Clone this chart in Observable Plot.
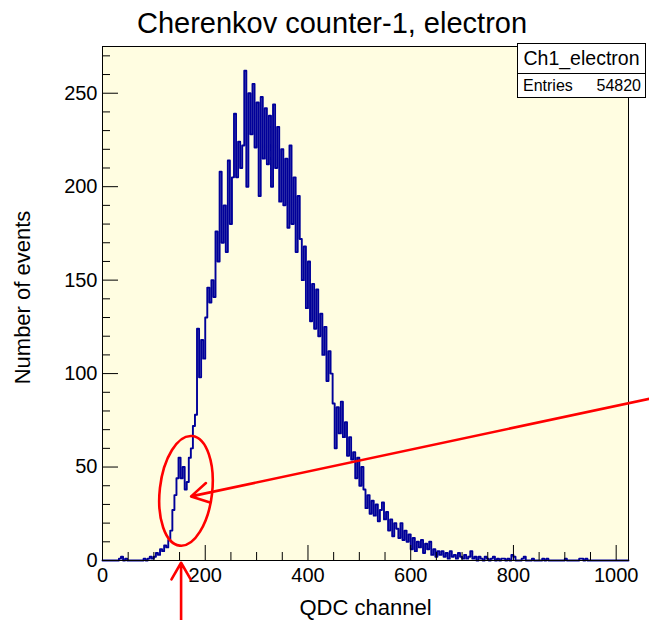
<!DOCTYPE html>
<html>
<head>
<meta charset="utf-8">
<script src="https://cdn.jsdelivr.net/npm/d3@7"></script>
<script src="https://cdn.jsdelivr.net/npm/@observablehq/plot@0.6"></script>
<style>
  body { margin: 0; background: #fff; }
  #wrap { position: relative; width: 649px; height: 620px; font-family: "Liberation Sans", Arial, Helvetica, sans-serif; color: #000; }
  #title { position: absolute; left: 332px; top: 7px; transform: translateX(-50%); white-space: nowrap; font-size: 29px; line-height: 32px; }
  #stats { position: absolute; left: 517px; top: 43px; width: 127px; height: 53px; border: 1px solid #000; background: #fff; }
  #stats .name { height: 29px; border-bottom: 1px solid #000; text-align: center; font-size: 19.5px; line-height: 29px; }
  #stats .row { display: flex; justify-content: space-between; padding: 0 4px 0 5px; font-size: 16px; line-height: 23px; }
  svg { position: absolute; left: 0; top: 0; }
</style>
</head>
<body>
<div id="wrap">
  <div id="title">Cherenkov counter-1, electron</div>
</div>
<script>
// ---- data (per-channel counts, read in groups of 4 QDC channels) ----
const binWidth = 4;
const counts = [
  0,0,0,0,0,0,0,0,1,2, 0,1,0,0,0,0,0,0,0,0,
  1,0,1,2,1,2,4,3,6,5, 8,7,11,16,27,35,44,55,44,50,
  38,42,55,60,72,78,124,98,118,108, 130,146,138,150,141,176,160,208,170,190,
  165,214,180,205,239,205,224,210,222,262, 200,250,228,255,221,245,195,248,215,242,
  212,238,200,244,210,232,192,220,190,215, 178,222,180,205,165,195,172,150,168,135,
  160,128,148,124,145,120,132,110,125,96, 112,100,84,60,82,68,85,66,74,56,
  66,54,58,44,55,40,50,38,28,35, 25,32,24,30,21,27,31,22,26,16,
  22,13,20,17,12,20,11,16,10,14, 6,12,5,10,7,11,4,9,6,10,
  3,6,2,5,3,5,2,4,1,5, 2,3,1,4,2,1,3,1,2,5,
  1,2,0,2,1,0,2,1,0,1, 2,0,1,0,1,1,0,1,0,3,
  2,0,0,0,1,2,0,0,0,1, 0,0,0,0,1,0,1,0,0,0,
  0,0,0,0,0,1,0,0,0,0, 0,0,1,1,0,1,0,0,0,0,
  0,0,0,0,0,0,0,0,0,0, 0,0,0,0,0,0
];
const xMajor = [0, 200, 400, 600, 800, 1000];
const xMinor = [50, 100, 150, 250, 300, 350, 450, 500, 550, 650, 700, 750, 850, 900, 950];
const yMajor = [0, 50, 100, 150, 200, 250];
const yMinor = [10, 20, 30, 40, 60, 70, 80, 90, 110, 120, 130, 140, 160, 170, 180, 190, 210, 220, 230, 240, 260, 270];
const xLabel = "QDC channel";
const yLabel = "Number of events";
const histName = "Ch1_electron";
const entries = 54820;

// annotations (data units)
const arrowStart = [[1065, 86.5], [153, -32]];
const arrowEnd   = [[172.5, 34.3], [153, -1.2]];
const ellipseCenter = [163.5, 37];
const ellipseRadii = [51, 29.5];
const ellipseTilt = 6.5;

// ---- build ----
const hist = counts.map((c, i) => ({x: i * binWidth, y: c}));
hist.push({x: counts.length * binWidth, y: counts[counts.length - 1]});
const arrows = arrowStart.map((s, i) => ({x1: s[0], y1: s[1], x2: arrowEnd[i][0], y2: arrowEnd[i][1]}));

const font = '"Liberation Sans", Arial, Helvetica, sans-serif';
const plot = Plot.plot({
  width: 649,
  height: 620,
  marginLeft: 102,
  marginRight: 21,
  marginTop: 46,
  marginBottom: 60,
  x: {domain: [0, 1024], label: null},
  y: {domain: [0, 275], label: null},
  style: {fontFamily: font, fontSize: "20px", background: "transparent", color: "#000", overflow: "visible"},
  marks: [
    Plot.frame({fill: "#fffde1", stroke: null}),
    Plot.lineY(hist, {x: "x", y: "y", curve: "step-after", stroke: "#000099", strokeWidth: 1.9}),
    Plot.axisX({ticks: xMinor, tickSize: -8, tickFormat: () => "", stroke: "#000"}),
    Plot.axisX({ticks: xMajor, tickSize: -15, tickPadding: 22, tickFormat: d => String(d), fontSize: 20, stroke: "#000"}),
    Plot.axisY({ticks: yMinor, tickSize: -8, tickFormat: () => "", stroke: "#000"}),
    Plot.axisY({ticks: yMajor, tickSize: -16, tickPadding: 21, tickFormat: d => String(d), fontSize: 20, stroke: "#000"}),
    Plot.frame({stroke: "#000", strokeWidth: 1}),
    Plot.text([xLabel], {frameAnchor: "bottom", dy: 47, fontSize: 22, lineAnchor: "middle"}),
    Plot.text([yLabel], {frameAnchor: "left", textAnchor: "middle", rotate: -90, dx: -80, dy: -6, fontSize: 22, lineAnchor: "middle"}),
    Plot.arrow(arrows, {x1: "x1", y1: "y1", x2: "x2", y2: "y2", stroke: "#ff0000", strokeWidth: 2.6, headLength: 11.5, headAngle: 60, clip: false})
  ]
});

const sx = plot.scale("x"), sy = plot.scale("y");
const cx = sx.apply(ellipseCenter[0]), cy = sy.apply(ellipseCenter[1]);
const rx = sx.apply(ellipseCenter[0] + ellipseRadii[0]) - cx;
const ry = cy - sy.apply(ellipseCenter[1] + ellipseRadii[1]);
d3.select(plot).append("ellipse")
  .attr("cx", cx).attr("cy", cy).attr("rx", rx).attr("ry", ry)
  .attr("transform", `rotate(${ellipseTilt} ${cx} ${cy})`)
  .attr("fill", "none").attr("stroke", "#ff0000").attr("stroke-width", 2.6);

const wrap = document.getElementById("wrap");
wrap.insertBefore(plot, wrap.firstChild);

const stats = document.createElement("div");
stats.id = "stats";
stats.innerHTML = `<div class="name">${histName}</div><div class="row"><span>Entries</span><span>${entries}</span></div>`;
wrap.appendChild(stats);
</script>
</body>
</html>
